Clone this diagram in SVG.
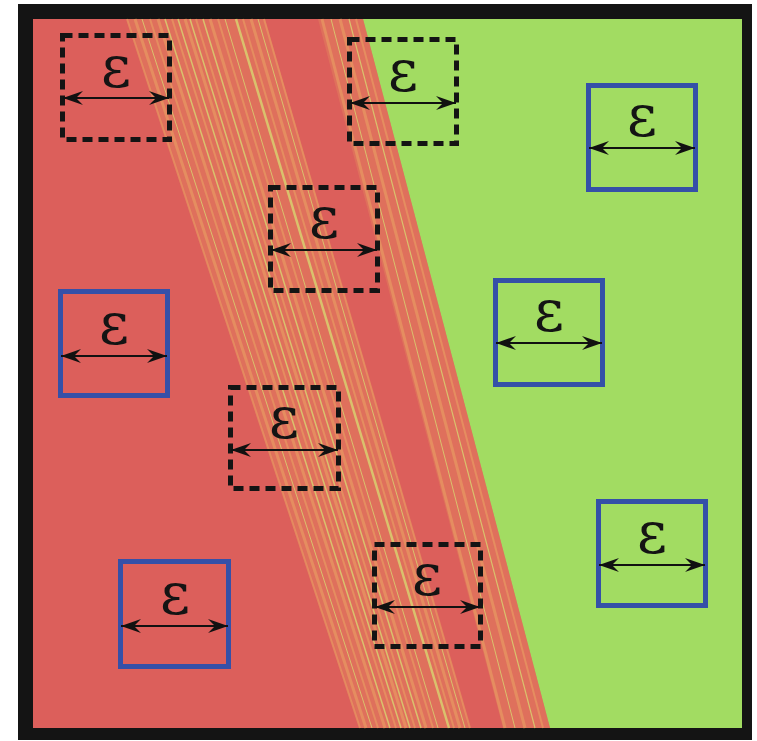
<svg xmlns="http://www.w3.org/2000/svg" width="757" height="741" viewBox="0 0 757 741">
<defs>
<style>
.dash{fill:none;stroke:#141414;stroke-width:5;stroke-dasharray:10 6}
.blue{fill:none;stroke:#3550a8;stroke-width:5}
.arr{stroke:#111;stroke-width:1.8;fill:none;marker-start:url(#ah);marker-end:url(#ah)}
.eps{font-family:"DejaVu Serif","Liberation Serif",serif;font-size:58px;fill:#141414;text-anchor:middle}
.sa{stroke:#eaa062;stroke-opacity:0.6;fill:none}
.sy{stroke:#d8d670;stroke-opacity:0.8;fill:none}
</style>
<marker id="ah" markerUnits="userSpaceOnUse" markerWidth="22" markerHeight="14" refX="20" refY="7" orient="auto-start-reverse" viewBox="0 0 22 14">
<path d="M0,0 L20,7 L0,14 L7,7 Z" fill="#111"/>
</marker>
</defs>
<rect x="18" y="4" width="734" height="736" fill="#141414"/>
<g id="background">
<rect x="33" y="19" width="709" height="709" fill="#a2dc62"/>
<polygon points="33,19 363,19 550,728 33,728" fill="#dc5f5b"/>
<polygon points="127,19 265,19 470,728 360,728" fill="#e2865e" fill-opacity="0.45"/>
<polygon points="318,19 363,19 550,728 503,728" fill="#e2865e" fill-opacity="0.45"/>
<g id="stripes">
<line class="sa" x1="127" y1="19" x2="360" y2="728" stroke-width="2"/>
<line class="sa" x1="135" y1="19" x2="366" y2="728" stroke-width="3"/>
<line class="sy" x1="142" y1="19" x2="372" y2="728" stroke-width="1"/>
<line class="sa" x1="150" y1="19" x2="378" y2="728" stroke-width="2"/>
<line class="sa" x1="158" y1="19" x2="385" y2="728" stroke-width="3"/>
<line class="sy" x1="165" y1="19" x2="390" y2="728" stroke-width="1.5"/>
<line class="sa" x1="172" y1="19" x2="396" y2="728" stroke-width="2"/>
<line class="sy" x1="178" y1="19" x2="401" y2="728" stroke-width="1.5"/>
<line class="sa" x1="185" y1="19" x2="406" y2="728" stroke-width="3"/>
<line class="sy" x1="190" y1="19" x2="410" y2="728" stroke-width="1.5"/>
<line class="sa" x1="196" y1="19" x2="415" y2="728" stroke-width="2"/>
<line class="sy" x1="203" y1="19" x2="421" y2="728" stroke-width="1.5"/>
<line class="sa" x1="210" y1="19" x2="426" y2="728" stroke-width="3"/>
<line class="sa" x1="218" y1="19" x2="433" y2="728" stroke-width="2"/>
<line class="sy" x1="225" y1="19" x2="438" y2="728" stroke-width="1"/>
<line class="sy" x1="236" y1="19" x2="449" y2="728" stroke-width="2.5" stroke-opacity="0.95"/>
<line class="sa" x1="243" y1="19" x2="454" y2="728" stroke-width="2"/>
<line class="sa" x1="251" y1="19" x2="460" y2="728" stroke-width="3"/>
<line class="sy" x1="258" y1="19" x2="465" y2="728" stroke-width="1"/>
<line class="sa" x1="264" y1="19" x2="470" y2="728" stroke-width="2"/>
<line class="sa" x1="322" y1="19" x2="505" y2="728" stroke-width="3"/>
<line class="sy" x1="331" y1="19" x2="515" y2="728" stroke-width="1"/>
<line class="sa" x1="340" y1="19" x2="525" y2="728" stroke-width="3"/>
<line class="sy" x1="349" y1="19" x2="535" y2="728" stroke-width="1.2"/>
<line class="sa" x1="356" y1="19" x2="543" y2="728" stroke-width="2"/>
</g>
</g>
<g id="dashed-1"><rect class="dash" x="62.5" y="35.5" width="107" height="104"/><text class="eps" x="116" y="87">ε</text></g>
<g id="dashed-2"><rect class="dash" x="349.5" y="39.5" width="107" height="104"/><text class="eps" x="403" y="91">ε</text></g>
<g id="dashed-3"><rect class="dash" x="270.5" y="187.5" width="107" height="103"/><text class="eps" x="324" y="238">ε</text></g>
<g id="dashed-4"><rect class="dash" x="230.5" y="387.5" width="108" height="101"/><text class="eps" x="284" y="438">ε</text></g>
<g id="dashed-5"><rect class="dash" x="374.5" y="544.5" width="106" height="102"/><text class="eps" x="427" y="595">ε</text></g>
<g id="blue-1"><rect class="blue" x="588.5" y="85.5" width="107" height="104"/><text class="eps" x="642" y="136">ε</text></g>
<g id="blue-2"><rect class="blue" x="60.5" y="291.5" width="107" height="104"/><text class="eps" x="114" y="344">ε</text></g>
<g id="blue-3"><rect class="blue" x="495.5" y="280.5" width="107" height="104"/><text class="eps" x="549" y="331">ε</text></g>
<g id="blue-4"><rect class="blue" x="120.5" y="561.5" width="108" height="105"/><text class="eps" x="175" y="614">ε</text></g>
<g id="blue-5"><rect class="blue" x="598.5" y="501.5" width="107" height="104"/><text class="eps" x="652" y="553">ε</text></g>
<g id="connectors">
<line class="arr" x1="63" y1="98" x2="169" y2="98"/>
<line class="arr" x1="350" y1="103" x2="456" y2="103"/>
<line class="arr" x1="271" y1="250" x2="377" y2="250"/>
<line class="arr" x1="231" y1="450" x2="338" y2="450"/>
<line class="arr" x1="375" y1="607" x2="480" y2="607"/>
<line class="arr" x1="589" y1="148" x2="695" y2="148"/>
<line class="arr" x1="61" y1="356" x2="167" y2="356"/>
<line class="arr" x1="496" y1="343" x2="602" y2="343"/>
<line class="arr" x1="121" y1="626" x2="228" y2="626"/>
<line class="arr" x1="599" y1="565" x2="705" y2="565"/>
</g>
</svg>
